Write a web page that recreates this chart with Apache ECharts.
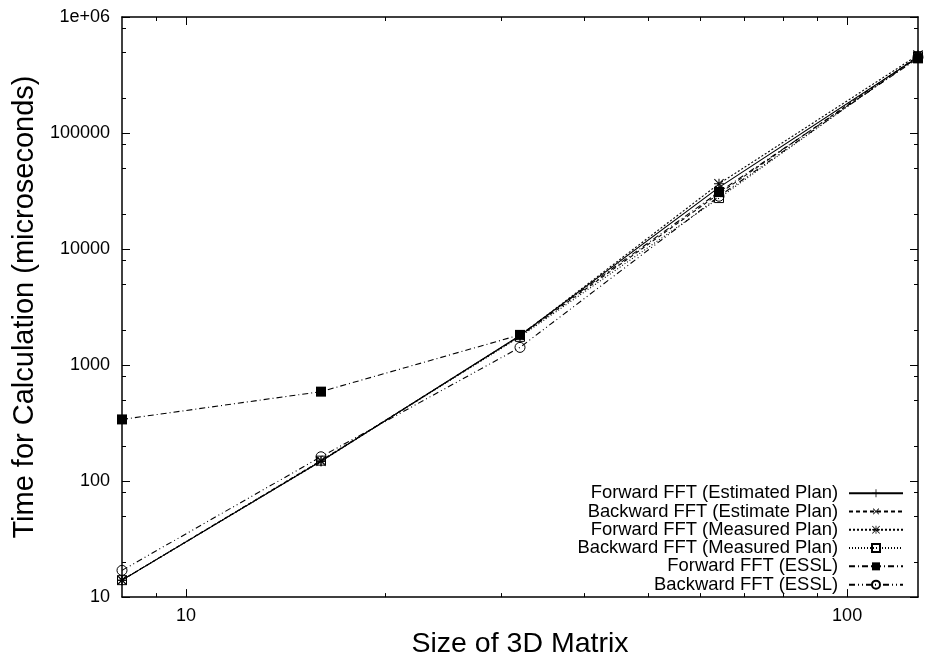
<!DOCTYPE html>
<html>
<head>
<meta charset="utf-8">
<script src="https://cdn.jsdelivr.net/npm/echarts@6/dist/echarts.min.js"></script>
<style>
  html, body { margin: 0; padding: 0; background: #fff; }
  #chart-container { width: 925px; height: 664px; }
</style>
</head>
<body>
<div id="chart-container"></div>
<script>
const sizes = [8, 16, 32, 64, 128];
const fwdEstimated = [14, 148, 1800, 34000, 450000];
const bwdEstimate = [14, 150, 1780, 30000, 460000];
const fwdMeasured = [14, 148, 1790, 36500, 470000];
const bwdMeasured = [14, 150, 1750, 27500, 460000];
const fwdEssl = [340, 590, 1820, 31000, 440000];
const bwdEssl = [17, 162, 1420, 28500, 450000];

const xMajor = [10, 100];
const xMinor = [9, 20, 30, 40, 50, 60, 70, 80, 90];
const yMajor = [10, 100, 1000, 10000, 100000, 1000000];
const yMinor = [20, 50, 80, 200, 500, 800, 2000, 5000, 8000, 20000, 50000, 80000, 200000, 500000, 800000];

(function () {
  var dom = document.getElementById("chart-container");
  var myChart = echarts.init(dom, null, { renderer: "canvas" });

  const font = "'Liberation Sans', Arial, sans-serif";
  const plus = "path://M4.5,0H5.5V4.5H10V5.5H5.5V10H4.5V5.5H0V4.5H4.5Z";
  const star = "path://M4.5,0H5.5V4.5H10V5.5H5.5V10H4.5V5.5H0V4.5H4.5Z" +
    "M0,0.7L0.7,0L10,9.3L9.3,10Z M10,0.7L9.3,0L0,9.3L0.7,10Z";
  const none = "rgba(0,0,0,0)";

  function pts(vals) {
    return sizes.map((s, i) => [s, vals[i]]);
  }

  function mkSeries(name, vals, symbol, size, dash, fill, rotate) {
    return {
      name: name,
      type: "line",
      data: pts(vals),
      symbol: symbol,
      symbolSize: size,
      symbolRotate: rotate || 0,
      showSymbol: true,
      color: "#000",
      itemStyle: {
        color: fill,
        borderColor: "#000",
        borderWidth: fill === none ? 1 : 0,
      },
      lineStyle: { color: "#000", width: 1.1, type: dash },
      z: 3,
    };
  }

  function xAx(pos, ticks, len, showLine, label) {
    return {
      type: "log",
      logBase: 10,
      min: 8,
      max: 128,
      position: pos,
      axisLine: { show: showLine, lineStyle: { color: "#000", width: 1.5 } },
      axisTick: { show: true, inside: true, length: len, customValues: ticks,
        lineStyle: { color: "#000", width: 1 } },
      axisLabel: label ? { show: true, customValues: xMajor, fontSize: 18, color: "#000",
        fontFamily: font, margin: 10 } : { show: false },
      splitLine: { show: false },
      minorTick: { show: false },
    };
  }

  function yAx(pos, ticks, len, showLine, label) {
    return {
      type: "log",
      logBase: 10,
      min: 10,
      max: 1000000,
      position: pos,
      axisLine: { show: showLine, lineStyle: { color: "#000", width: 1.5 } },
      axisTick: { show: true, inside: true, length: len, customValues: ticks,
        lineStyle: { color: "#000", width: 1 } },
      axisLabel: label ? { show: true, customValues: yMajor, fontSize: 18, color: "#000",
        fontFamily: font, margin: 12,
        formatter: (v) => (v >= 1000000 ? "1e+06" : String(Math.round(v))) } : { show: false },
      splitLine: { show: false },
      minorTick: { show: false },
    };
  }

  const xMain = xAx("bottom", xMajor, 8, true, true);
  xMain.name = "Size of 3D Matrix";
  xMain.nameLocation = "middle";
  xMain.nameGap = 30;
  xMain.nameTextStyle = { fontSize: 28.5, color: "#000", fontFamily: font };

  const yMain = yAx("left", yMajor, 8, true, true);
  yMain.name = "Time for Calculation (microseconds)";
  yMain.nameLocation = "middle";
  yMain.nameRotate = 90;
  yMain.nameGap = 78;
  yMain.nameTextStyle = { fontSize: 29, color: "#000", fontFamily: font };

  var option = {
    animation: false,
    backgroundColor: "#fff",
    grid: { left: 122, top: 17, right: 7, bottom: 61, containLabel: false },
    xAxis: [
      xMain,
      xAx("bottom", xMinor, 4, false, false),
      xAx("top", xMajor, 8, true, false),
      xAx("top", xMinor, 4, false, false),
    ],
    yAxis: [
      yMain,
      yAx("left", yMinor, 4, false, false),
      yAx("right", yMajor, 8, true, false),
      yAx("right", yMinor, 4, false, false),
    ],
    legend: {
      orient: "vertical",
      right: 16,
      top: 479,
      align: "right",
      itemWidth: 54,
      itemHeight: 10,
      itemGap: 0,
      textStyle: { fontSize: 18.4, color: "#000", fontFamily: font, lineHeight: 18.3,
        padding: [0, 6, 0, 0] },
      data: [
        "Forward FFT (Estimated Plan)",
        "Backward FFT (Estimate Plan)",
        "Forward FFT (Measured Plan)",
        "Backward FFT (Measured Plan)",
        "Forward FFT (ESSL)",
        "Backward FFT (ESSL)",
      ],
    },
    series: [
      mkSeries("Forward FFT (Estimated Plan)", fwdEstimated, plus, 10, "solid", "#000"),
      mkSeries("Backward FFT (Estimate Plan)", bwdEstimate, plus, 10, [4, 3], "#000", 45),
      mkSeries("Forward FFT (Measured Plan)", fwdMeasured, star, 10, [2, 2], "#000"),
      mkSeries("Backward FFT (Measured Plan)", bwdMeasured, "rect", 9, [1, 2], none),
      mkSeries("Forward FFT (ESSL)", fwdEssl, "rect", 10, [6, 3, 1, 3], "#000"),
      mkSeries("Backward FFT (ESSL)", bwdEssl, "circle", 10, [6, 3, 1, 3, 1, 3], none),
    ],
  };

  if (option && typeof option === "object") {
    myChart.setOption(option);
  }

  window.addEventListener("resize", myChart.resize);
})();
</script>
</body>
</html>
